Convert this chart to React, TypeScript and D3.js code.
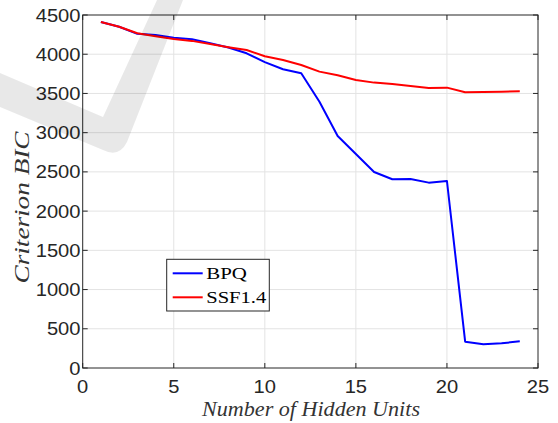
import * as d3 from "d3";
import { useEffect, useRef } from "react";

// ---- data ----
const hiddenUnits = [1, 2, 3, 4, 5, 6, 7, 8, 9, 10, 11, 12, 13, 14, 15, 16, 17, 18, 19, 20, 21, 22, 23, 24];
const bpq = [4410, 4350, 4260, 4245, 4210, 4190, 4140, 4085, 4012, 3900, 3808, 3757, 3395, 2958, 2729, 2499, 2406, 2410, 2363, 2384, 335, 302, 315, 340];
const ssf = [4410, 4350, 4267, 4230, 4195, 4170, 4130, 4090, 4054, 3975, 3927, 3863, 3778, 3732, 3672, 3638, 3621, 3596, 3570, 3574, 3515, 3519, 3523, 3528];
const xTicks = [0, 5, 10, 15, 20, 25];
const yTicks = [0, 500, 1000, 1500, 2000, 2500, 3000, 3500, 4000, 4500];
const seriesNames = ["BPQ", "SSF1.4"];
const seriesColors = ["#0000ff", "#ff0000"];

export default function App() {
  const ref = useRef<SVGSVGElement>(null);

  useEffect(() => {
    const width = 558;
    const height = 423;
    const left = 82.7, right = 538, top = 15, bottom = 368;

    const svg = d3.select(ref.current);
    svg.selectAll("*").remove();

    const x = d3.scaleLinear().domain([0, 25]).range([left, right]);
    const y = d3.scaleLinear().domain([0, 4500]).range([bottom, top]);

    const axisColor = "#262626";
    const tickFont = "Liberation Sans, Arial, sans-serif";
    const serif = "Liberation Serif, Times New Roman, Times, serif";
    const digitW = 11.2; // picture is a bit stretched horizontally

    svg.append("rect").attr("width", width).attr("height", height).attr("fill", "#fff");

    // grid
    const grid = svg.append("g").attr("stroke", "#e3e3e3").attr("stroke-width", 1);
    grid.selectAll("line.v")
      .data(xTicks.slice(1, -1))
      .join("line")
      .attr("x1", d => x(d)).attr("x2", d => x(d))
      .attr("y1", top).attr("y2", bottom);
    grid.selectAll("line.h")
      .data(yTicks.slice(1, -1))
      .join("line")
      .attr("class", "h")
      .attr("x1", left).attr("x2", right)
      .attr("y1", d => y(d)).attr("y2", d => y(d));

    // lines
    const line = d3.line<number>()
      .x((_, i) => x(hiddenUnits[i]))
      .y(d => y(d));
    [bpq, ssf].forEach((vals, k) => {
      svg.append("path")
        .datum(vals)
        .attr("d", line)
        .attr("fill", "none")
        .attr("stroke", seriesColors[k])
        .attr("stroke-width", 2)
        .attr("stroke-linejoin", "round");
    });

    // box + ticks
    svg.append("rect")
      .attr("x", left).attr("y", top)
      .attr("width", right - left).attr("height", bottom - top)
      .attr("fill", "none").attr("stroke", axisColor).attr("stroke-width", 1);

    const tk = 5;
    const ticks = svg.append("g").attr("stroke", axisColor).attr("stroke-width", 1);
    xTicks.forEach(t => {
      ticks.append("line").attr("x1", x(t)).attr("x2", x(t)).attr("y1", bottom).attr("y2", bottom - tk);
      ticks.append("line").attr("x1", x(t)).attr("x2", x(t)).attr("y1", top).attr("y2", top + tk);
    });
    yTicks.forEach(t => {
      ticks.append("line").attr("x1", left).attr("x2", left + tk).attr("y1", y(t)).attr("y2", y(t));
      ticks.append("line").attr("x1", right).attr("x2", right - tk).attr("y1", y(t)).attr("y2", y(t));
    });

    svg.append("g").selectAll("text")
      .data(xTicks)
      .join("text")
      .attr("x", d => x(d))
      .attr("y", 393)
      .attr("text-anchor", "middle")
      .style("font-family", tickFont)
      .attr("font-size", 18.2)
      .attr("textLength", d => String(d).length * digitW)
      .attr("lengthAdjust", "spacingAndGlyphs")
      .attr("fill", axisColor)
      .text(d => d);

    svg.append("g").selectAll("text")
      .data(yTicks)
      .join("text")
      .attr("x", 80.5)
      .attr("y", d => y(d) + 6.6)
      .attr("text-anchor", "end")
      .style("font-family", tickFont)
      .attr("font-size", 18.2)
      .attr("textLength", d => String(d).length * digitW)
      .attr("lengthAdjust", "spacingAndGlyphs")
      .attr("fill", axisColor)
      .text(d => d);

    // axis titles
    svg.append("text")
      .attr("x", 311)
      .attr("y", 415.7)
      .attr("text-anchor", "middle")
      .style("font-family", serif)
      .attr("font-style", "italic")
      .attr("font-size", 20.5)
      .attr("textLength", 218)
      .attr("lengthAdjust", "spacingAndGlyphs")
      .attr("fill", "#333")
      .text("Number of Hidden Units");

    svg.append("text")
      .attr("transform", "translate(28.5,207.5) rotate(-90)")
      .attr("text-anchor", "middle")
      .style("font-family", serif)
      .attr("font-style", "italic")
      .attr("font-size", 20.5)
      .attr("textLength", 152)
      .attr("lengthAdjust", "spacingAndGlyphs")
      .attr("fill", "#333")
      .text("Criterion BIC");

    // legend
    const legendW = [40.7, 60];
    const lg = svg.append("g").attr("transform", "translate(166.7,259.3)");
    lg.append("rect")
      .attr("width", 102.6).attr("height", 51.7)
      .attr("fill", "#fff").attr("stroke", axisColor).attr("stroke-width", 1);
    seriesNames.forEach((name, i) => {
      const ly = 14 + i * 24;
      lg.append("line")
        .attr("x1", 6).attr("x2", 36)
        .attr("y1", ly).attr("y2", ly)
        .attr("stroke", seriesColors[i]).attr("stroke-width", 2);
      lg.append("text")
        .attr("x", 39.5).attr("y", ly + 6)
        .style("font-family", serif)
        .attr("font-size", 17.6)
        .attr("textLength", legendW[i])
        .attr("lengthAdjust", "spacingAndGlyphs")
        .attr("fill", "#000")
        .text(name);
    });

    // watermark check shape
    svg.append("path")
      .attr("d", "M0,73 L103,117 L157,0 L183,0 L127,142 Q119,158 103,150 L0,107 Z")
      .attr("fill", "#000")
      .attr("fill-opacity", 0.09);
  }, []);

  return (
    <svg
      ref={ref}
      width={558}
      height={423}
      style={{ position: "absolute", left: 0, top: 0 }}
    />
  );
}
